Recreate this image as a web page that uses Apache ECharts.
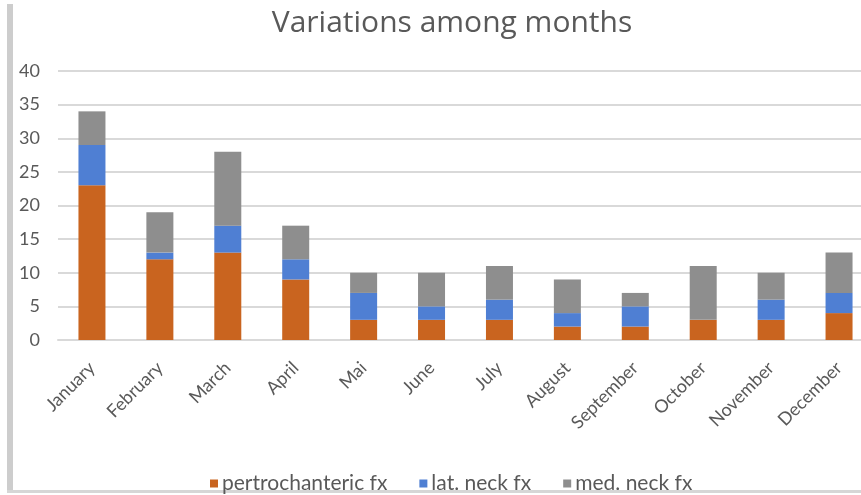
<!DOCTYPE html>
<html>
<head>
<meta charset="utf-8">
<style>
  html, body { margin: 0; padding: 0; background: #ffffff; overflow: hidden; }
  #chart { width: 861px; height: 495px; }
</style>
<script src="https://cdn.jsdelivr.net/npm/echarts@6/dist/echarts.min.js"></script>
</head>
<body>
<div id="chart"></div>
<script>
// Monthly fracture counts, stacked by fracture type
const months = ['January', 'February', 'March', 'April', 'Mai', 'June',
                'July', 'August', 'September', 'October', 'November', 'December'];
const pertrochanteric = [23, 12, 13, 9, 3, 3, 3, 2, 2, 3, 3, 4];
const latNeck = [6, 1, 4, 3, 4, 2, 3, 2, 3, 0, 3, 3];
const medNeck = [5, 6, 11, 5, 3, 5, 5, 5, 2, 8, 4, 6];
const seriesNames = ['pertrochanteric fx', 'lat. neck fx', 'med. neck fx'];
const yTicks = { min: 0, max: 40, interval: 5 };

const textColor = '#595959';
const fontFamily = 'Lato, "Open Sans", sans-serif';
const colors = ['#c9641f', '#4f7fd3', '#8e8e8e'];

const chart = echarts.init(document.getElementById('chart'), null, { renderer: 'canvas' });

const makeSeries = (name, data, color) => ({
  name: name,
  type: 'bar',
  stack: 'total',
  data: data,
  barWidth: 27,
  itemStyle: { color: color },
  emphasis: { disabled: true }
});

chart.setOption({
  animation: false,
  backgroundColor: '#ffffff',
  color: colors,
  title: {
    text: 'Variations among months',
    left: 447,
    top: 3,
    textAlign: 'center',
    textStyle: { color: textColor, fontFamily: '"Open Sans", Lato, sans-serif', fontWeight: 'normal', fontSize: 30 }
  },
  legend: {
    data: seriesNames,
    left: 205,
    top: 468,
    icon: 'rect',
    itemWidth: 8,
    itemHeight: 8,
    itemGap: 32,
    textStyle: { color: textColor, fontFamily: fontFamily, fontSize: 21, padding: [0, 0, 0, -1] }
  },
  // the plot runs a little past the right edge of the canvas
  grid: { left: 58, top: 71, width: 815, height: 269, containLabel: false, outerBoundsMode: 'none' },
  xAxis: {
    type: 'category',
    data: months,
    axisLine: { show: true, lineStyle: { color: '#d9d9d9', width: 2 } },
    axisTick: { show: false },
    axisLabel: {
      rotate: 45,
      interval: 0,
      margin: 25,
      color: textColor,
      fontFamily: fontFamily,
      fontSize: 18
    }
  },
  yAxis: {
    type: 'value',
    min: yTicks.min,
    max: yTicks.max,
    interval: yTicks.interval,
    axisLine: { show: false },
    axisTick: { show: false },
    axisLabel: { color: textColor, fontFamily: fontFamily, fontSize: 18, margin: 18 },
    splitLine: { lineStyle: { color: '#d9d9d9', width: 2 } }
  },
  series: [
    makeSeries(seriesNames[0], pertrochanteric, colors[0]),
    makeSeries(seriesNames[1], latNeck, colors[1]),
    makeSeries(seriesNames[2], medNeck, colors[2])
  ],
  graphic: [
    // frame edges along the left and bottom
    { type: 'rect', shape: { x: 7, y: 4, width: 6, height: 489 }, style: { fill: '#cdcdcd' }, silent: true },
    { type: 'rect', shape: { x: 7, y: 490, width: 854, height: 3 }, style: { fill: '#d6d6d6' }, silent: true }
  ]
});
</script>
</body>
</html>
